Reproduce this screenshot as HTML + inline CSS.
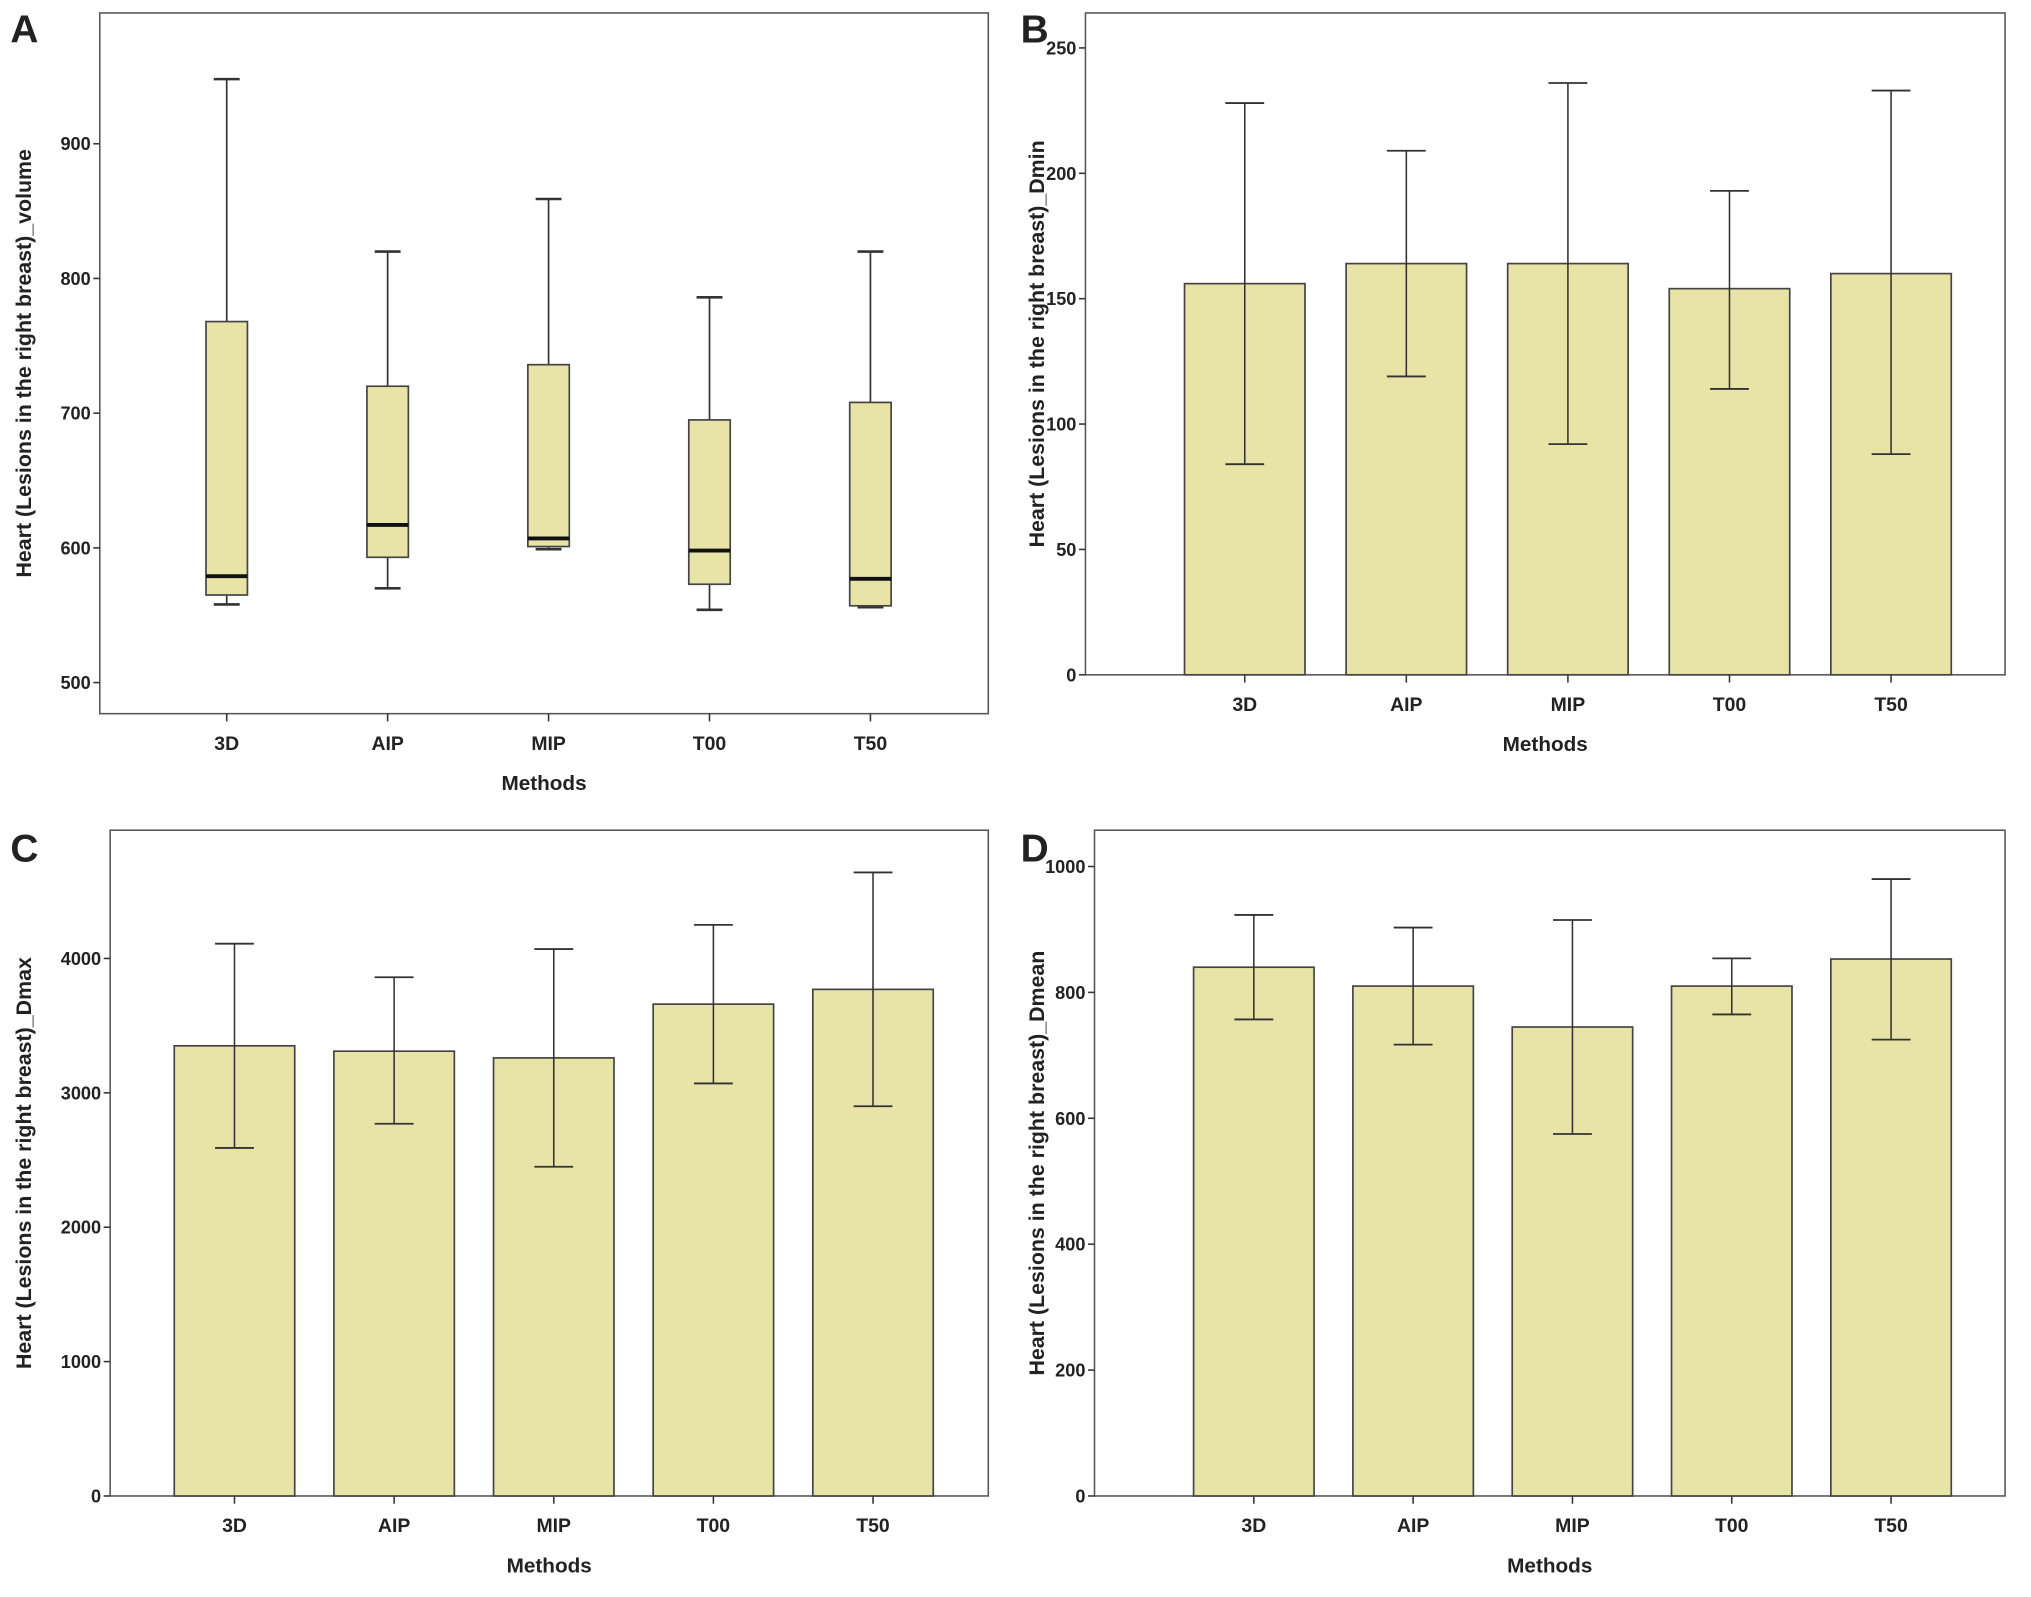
<!DOCTYPE html>
<html><head><meta charset="utf-8">
<style>
html,body{margin:0;padding:0;background:#fff;}
svg{display:block;}
text{font-family:"Liberation Sans",sans-serif;font-weight:bold;fill:#222;}
</style></head>
<body>
<svg id="fig" width="2031" height="1597" viewBox="0 0 1568 1233" xmlns="http://www.w3.org/2000/svg"></svg>
<script>
const categories = ["3D","AIP","MIP","T00","T50"];
// Panel A box plot
const boxMax = [948,820,859,786,820];
const boxQ3 = [768,720,736,695,708];
const boxMed = [579,617,607,598,577];
const boxQ1 = [565,593,601,573,557];
const boxMin = [558,570,599,554,556];
const ticksA = [500,600,700,800,900];
// Panel B Dmin
const meanB = [156,164,164,154,160];
const lowB = [84,119,92,114,88];
const highB = [228,209,236,193,233];
const ticksB = [0,50,100,150,200,250];
// Panel C Dmax
const meanC = [3350,3310,3260,3660,3770];
const lowC = [2590,2770,2450,3070,2900];
const highC = [4110,3860,4070,4250,4640];
const ticksC = [0,1000,2000,3000,4000];
// Panel D Dmean
const meanD = [840,810,745,810,853];
const lowD = [757,717,575,765,725];
const highD = [923,903,915,854,980];
const ticksD = [0,200,400,600,800,1000];

const NS="http://www.w3.org/2000/svg";
const svg=document.getElementById('fig');
function mk(tag,attrs,parent){const e=document.createElementNS(NS,tag);for(const k in attrs)e.setAttribute(k,attrs[k]);(parent||svg).appendChild(e);return e;}
function txt(s,attrs,parent){const e=mk('text',attrs,parent);e.textContent=s;return e;}

const FILL="#e8e3a6", STROKE="#333";

function panel(cfg){
  const g=mk('g',{});
  
  
  const {x0,x1,y0,y1,vmin,vmax}=cfg;
  const ys=v=>cfg.yBot-(v-vmin)*(cfg.yBot-cfg.yTop)/(vmax-vmin);
  const xs=i=>cfg.cx0+i*cfg.dx;
  const frame=mk('rect',{x:x0,y:y0,width:x1-x0,height:y1-y0,fill:'none',stroke:'#555','stroke-width':1.2},g);
  
  
  const L=txt(cfg.letter,{x:cfg.lx,y:cfg.ly,'font-size':30},g);
  
  
  cfg.ticks.forEach(t=>{
    const y=ys(t);
    mk('line',{x1:x0-5,x2:x0,y1:y,y2:y,stroke:'#333','stroke-width':1.2},g);
    const tl=txt(String(t),{x:x0-7,y:y+5,'font-size':14,'text-anchor':'end'},g);
    
    
  });
  categories.forEach((c,i)=>{
    const x=xs(i);
    mk('line',{x1:x,x2:x,y1:y1,y2:y1+6,stroke:'#333','stroke-width':1.2},g);
    const cl=txt(c,{x:x,y:y1+28,'font-size':15,'text-anchor':'middle'},g);
    
    
  });
  const xt=txt('Methods',{x:(x0+x1)/2,y:y1+59,'font-size':16,'text-anchor':'middle'},g);
  
  
  const yc=(y0+y1)/2;
  const yt=txt(cfg.ytitle,{x:cfg.ytx,y:yc,'font-size':16.5,'text-anchor':'middle',transform:`rotate(-90 ${cfg.ytx} ${yc})`},g);
  
  
  return {g,ys,xs};
}

// Panel A
(function(){
  const p=panel({letter:'A',lx:8,ly:33,x0:77,x1:763,y0:10,y1:551,yBot:527,yTop:111,vmin:500,vmax:900,cx0:175,dx:124.25,ticks:ticksA,ytitle:'Heart (Lesions in the right breast)_volume',ytx:24});
  categories.forEach((c,i)=>{
    const x=p.xs(i),w=32;
    const wl=mk('line',{x1:x,x2:x,y1:p.ys(boxMax[i]),y2:p.ys(boxMin[i]),stroke:STROKE,'stroke-width':1.3},p.g);
    
    
    [boxMax[i],boxMin[i]].forEach(v=>mk('line',{x1:x-10,x2:x+10,y1:p.ys(v),y2:p.ys(v),stroke:STROKE,'stroke-width':2},p.g));
    const b=mk('rect',{x:x-w/2,y:p.ys(boxQ3[i]),width:w,height:p.ys(boxQ1[i])-p.ys(boxQ3[i]),fill:FILL,stroke:'#444','stroke-width':1.3},p.g);
    
    
    const m=mk('line',{x1:x-w/2,x2:x+w/2,y1:p.ys(boxMed[i]),y2:p.ys(boxMed[i]),stroke:'#111','stroke-width':3},p.g);
    
    
  });
})();

function barPanel(cfg,mean,low,high){
  const p=panel(cfg);
  categories.forEach((c,i)=>{
    const x=p.xs(i),w=93;
    const b=mk('rect',{x:x-w/2,y:p.ys(mean[i]),width:w,height:p.ys(0)-p.ys(mean[i]),fill:FILL,stroke:'#444','stroke-width':1.3},p.g);
    
    
    const e=mk('line',{x1:x,x2:x,y1:p.ys(high[i]),y2:p.ys(low[i]),stroke:STROKE,'stroke-width':1.2},p.g);
    
    
    [high[i],low[i]].forEach(v=>mk('line',{x1:x-15,x2:x+15,y1:p.ys(v),y2:p.ys(v),stroke:STROKE,'stroke-width':1.4},p.g));
  });
}
barPanel({letter:'B',lx:788,ly:33,x0:838,x1:1548,y0:10,y1:521,yBot:521,yTop:37,vmin:0,vmax:250,cx0:961,dx:124.75,ticks:ticksB,ytitle:'Heart (Lesions in the right breast)_Dmin',ytx:806},meanB,lowB,highB);
barPanel({letter:'C',lx:8,ly:665,x0:85,x1:763,y0:641,y1:1155,yBot:1155,yTop:740,vmin:0,vmax:4000,cx0:181,dx:123.25,ticks:ticksC,ytitle:'Heart (Lesions in the right breast)_Dmax',ytx:24},meanC,lowC,highC);
barPanel({letter:'D',lx:788,ly:665,x0:845,x1:1548,y0:641,y1:1155,yBot:1155,yTop:669,vmin:0,vmax:1000,cx0:968,dx:123,ticks:ticksD,ytitle:'Heart (Lesions in the right breast)_Dmean',ytx:806},meanD,lowD,highD);
</script>
</body></html>
